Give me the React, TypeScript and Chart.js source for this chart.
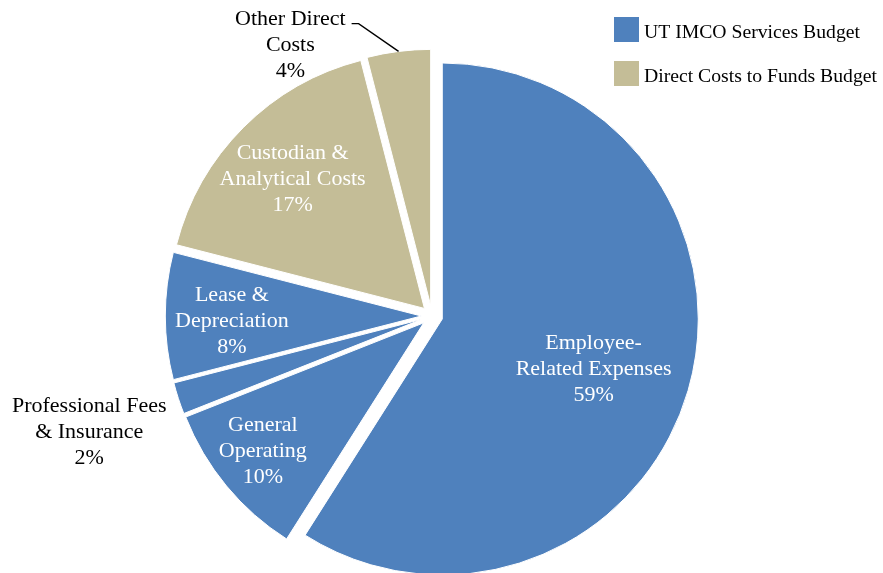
import React, { useEffect, useRef } from "react";
import { Chart, registerables } from "chart.js";

Chart.register(...registerables);

// ---- data ----
const categories = [
  "Employee-Related Expenses",
  "General Operating",
  "Professional Fees & Insurance",
  "Lease & Depreciation",
  "Custodian & Analytical Costs",
  "Other Direct Costs",
];
const values = [59, 10, 2, 8, 17, 4];
const budgetGroups = ["UT IMCO Services Budget", "Direct Costs to Funds Budget"];
const categoryGroup = [0, 0, 0, 0, 1, 1];
const labelLines = [
  ["Employee-", "Related Expenses"],
  ["General", "Operating"],
  ["Professional Fees", "& Insurance"],
  ["Lease &", "Depreciation"],
  ["Custodian &", "Analytical Costs"],
  ["Other Direct", "Costs"],
];

// ---- styling / layout ----
const GROUP_COLORS = ["#4F81BD", "#C4BD97"];
const EXPLODE = 10.7;
const RADIUS = 256;
const FONT = "'Times New Roman', 'Liberation Serif', serif";
const LABEL_SIZE = 22;
const LINE_H = 26;
const TEXT_DY = 2;
const LABEL_PLACE = [
  { frac: 0.62, shift: 1.4, inside: true, leader: false },
  { frac: 0.8, shift: 1.4, inside: true, leader: false },
  { frac: 1.37, shift: -0.5, inside: false, leader: false },
  { frac: 0.74, shift: -0.9, inside: true, leader: false },
  { frac: 0.727, shift: -0.1, inside: true, leader: false },
  { frac: 1.16, shift: -21, inside: false, leader: true },
];

const explodePlugin = {
  id: "explodeSlices",
  beforeDatasetDraw(chart: any, args: any) {
    const meta = chart.getDatasetMeta(args.index);
    const ctx = chart.ctx;
    meta.data.forEach((arc: any) => {
      const p = arc.getProps(["startAngle", "endAngle"], true);
      const mid = (p.startAngle + p.endAngle) / 2;
      ctx.save();
      ctx.translate(Math.cos(mid) * EXPLODE, Math.sin(mid) * EXPLODE);
      arc.draw(ctx);
      ctx.restore();
    });
    return false;
  },
};

const labelPlugin = {
  id: "sliceLabels",
  afterDatasetsDraw(chart: any) {
    const ctx = chart.ctx;
    const meta = chart.getDatasetMeta(0);
    ctx.save();
    ctx.font = `${LABEL_SIZE}px ${FONT}`;
    ctx.textAlign = "center";
    ctx.textBaseline = "middle";
    meta.data.forEach((arc: any, i: number) => {
      const p = arc.getProps(["x", "y", "startAngle", "endAngle", "outerRadius"], true);
      const mid = (p.startAngle + p.endAngle) / 2;
      const vx = p.x + Math.cos(mid) * EXPLODE;
      const vy = p.y + Math.sin(mid) * EXPLODE;
      const place = LABEL_PLACE[i];
      const a = mid + (place.shift * Math.PI) / 180;
      const ax = vx + Math.cos(a) * place.frac * p.outerRadius;
      const ay = vy + Math.sin(a) * place.frac * p.outerRadius;
      const lines = [...labelLines[i], `${values[i]}%`];
      ctx.fillStyle = place.inside ? "#FFFFFF" : "#000000";
      lines.forEach((t, k) => {
        ctx.fillText(t, ax, ay + TEXT_DY + (k - (lines.length - 1) / 2) * LINE_H);
      });
      if (place.leader) {
        const w = ctx.measureText(lines[0]).width;
        const firstY = ay - ((lines.length - 1) / 2) * LINE_H;
        const x0 = ax + w / 2 + 6;
        const y0 = firstY + 6;
        const ex = vx + Math.cos(mid) * p.outerRadius;
        const ey = vy + Math.sin(mid) * p.outerRadius;
        ctx.beginPath();
        ctx.moveTo(x0, y0);
        ctx.lineTo(x0 + 7, y0);
        ctx.lineTo(ex, ey);
        ctx.strokeStyle = "#000000";
        ctx.lineWidth = 1.4;
        ctx.stroke();
      }
    });
    ctx.restore();
  },
};

const legendPlugin = {
  id: "groupLegend",
  afterDraw(chart: any) {
    const ctx = chart.ctx;
    ctx.save();
    ctx.font = `19.7px ${FONT}`;
    ctx.textAlign = "left";
    ctx.textBaseline = "alphabetic";
    budgetGroups.forEach((g, i) => {
      const top = 17 + i * 44;
      ctx.fillStyle = GROUP_COLORS[i];
      ctx.fillRect(614, top, 25, 25);
      ctx.fillStyle = "#000000";
      ctx.fillText(g, 644, top + 21);
    });
    ctx.restore();
  },
};

export default function App() {
  const canvasRef = useRef<HTMLCanvasElement | null>(null);

  useEffect(() => {
    document.body.style.margin = "0";
    const canvas = canvasRef.current;
    if (!canvas) return;
    const chart = new Chart(canvas, {
      type: "pie",
      data: {
        labels: categories,
        datasets: [
          {
            data: values,
            backgroundColor: categoryGroup.map((g) => GROUP_COLORS[g]),
            borderColor: "#FFFFFF",
            borderWidth: 1,
          },
        ],
      },
      options: {
        animation: false,
        responsive: false,
        devicePixelRatio: 1,
        radius: RADIUS,
        events: [],
        layout: { padding: { left: 0, right: 19, top: 59, bottom: 0 } },
        plugins: {
          legend: { display: false },
          tooltip: { enabled: false },
          title: { display: false },
        },
      } as any,
      plugins: [explodePlugin, labelPlugin, legendPlugin],
    });
    return () => chart.destroy();
  }, []);

  return (
    <div style={{ width: 883, height: 573, background: "#FFFFFF" }}>
      <canvas ref={canvasRef} width={883} height={573} style={{ display: "block" }} />
    </div>
  );
}
